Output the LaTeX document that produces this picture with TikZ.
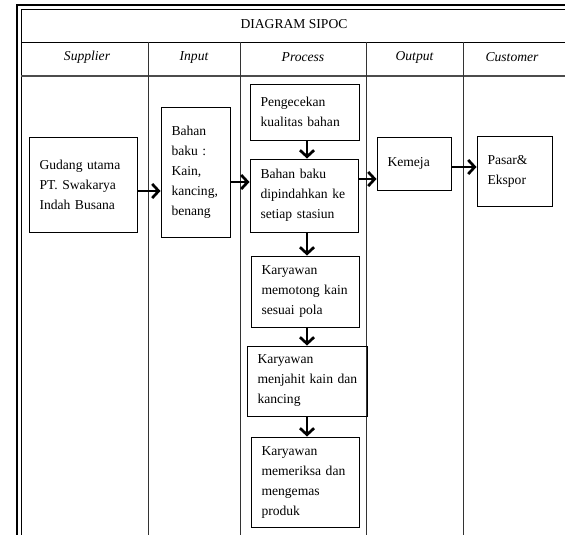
\documentclass[tikz,border=0pt]{standalone}
\usepackage{fontspec}
\setmainfont{Liberation Serif}
\usetikzlibrary{arrows.meta}

\begin{document}
\begin{tikzpicture}[x={(1pt,0pt)}, y={(0pt,-1pt)},
  box/.style={draw, line width=0.9pt, align=left, inner xsep=10.5pt, inner ysep=0pt,
    font=\fontsize{13.6}{20}\selectfont},
  head/.style={font=\fontsize{13.6}{20}\selectfont\itshape},
  arr/.style={line width=2.7pt, -{Straight Barb[length=6.5pt, width=14pt]}}]

 \useasboundingbox (0,0) rectangle (565,535);

 %%%%%%%%%% Cadre du tableau %%%%%%%%%%
 \draw [line width=2.5pt] (17,535) -- (17,5) -- (565,5) ;
 \draw [line width=0.8pt] (21,535) -- (21,9) -- (565,9) ;
 \draw [line width=0.8pt] (21,42) -- (565,42) ;
 \draw [line width=1.6pt, color=gray!60!black] (21,76) -- (565,76) ;

 % colonnes
 \draw [line width=0.8pt, color=gray!40!black] (148,42) -- (148,535) ;
 \draw [line width=0.8pt, color=gray!40!black] (240,42) -- (240,535) ;
 \draw [line width=0.8pt, color=gray!40!black] (366,42) -- (366,535) ;
 \draw [line width=0.8pt, color=gray!40!black] (463,42) -- (463,535) ;

 %%%%%%%%%% Titres %%%%%%%%%%
 \node [font=\fontsize{13.6}{20}\selectfont] (titre) at (294,24.5) {DIAGRAM SIPOC};
 \node [head] (hsup) at (87,57.5) {Supplier};
 \node [head] (hinp) at (194,57.5) {Input};
 \node [head] (hpro) at (303,57.5) {Process};
 \node [head] (hout) at (414.5,57.5) {Output};
 \node [head] (hcus) at (512,57.5) {Customer};

 %%%%%%%%%% Boites %%%%%%%%%%
 \node [box, text width=87pt, minimum height=95pt] (sup) at (83,184.5)
   {Gudang utama\\PT. Swakarya\\Indah Busana};
 \node [box, text width=48pt, minimum height=130pt] (inp) at (195.5,172)
   {Bahan\\baku :\\Kain,\\kancing,\\benang};

 \node [box, text width=88pt, minimum height=56pt] (cek) at (304.5,112)
   {Pengecekan\\kualitas bahan};
 \node [box, text width=87pt, minimum height=73pt] (pin) at (304,195.5)
   {Bahan baku\\dipindahkan ke\\setiap stasiun};
 \node [box, text width=87pt, minimum height=71pt] (pot) at (305,291.5)
   {Karyawan\\memotong kain\\sesuai pola};
 \node [box, text width=99pt, minimum height=70pt] (jah) at (307,381)
   {Karyawan\\\mbox{menjahit kain dan}\\kancing};
 \node [box, text width=87pt, minimum height=90pt] (kms) at (305,482)
   {Karyawan\\memeriksa dan\\mengemas\\produk};

 \node [box, text width=53pt, minimum height=53pt] (kem) at (414,163.5)
   {Kemeja\\[6pt]};
 \node [box, text width=54pt, minimum height=70pt] (pas) at (514.5,171)
   {Pasar\&\\Ekspor};

 %%%%%%%%%% Fleches %%%%%%%%%%
 \draw [arr] (sup.east |- 0,191) -- (inp.west |- 0,191) ;
 \draw [arr] (inp.east |- 0,182) -- (pin.west |- 0,182) ;
 \draw [arr] (pin.east |- 0,179) -- (kem.west |- 0,179) ;
 \draw [arr] (kem.east |- 0,167) -- (pas.west |- 0,167) ;

 \draw [arr] (cek.south -| 307,0) -- (pin.north -| 307,0) ;
 \draw [arr] (pin.south -| 307,0) -- (pot.north -| 307,0) ;
 \draw [arr] (pot.south -| 307,0) -- (jah.north -| 307,0) ;
 \draw [arr] (jah.south -| 307,0) -- (kms.north -| 307,0) ;

\end{tikzpicture}
\end{document}
